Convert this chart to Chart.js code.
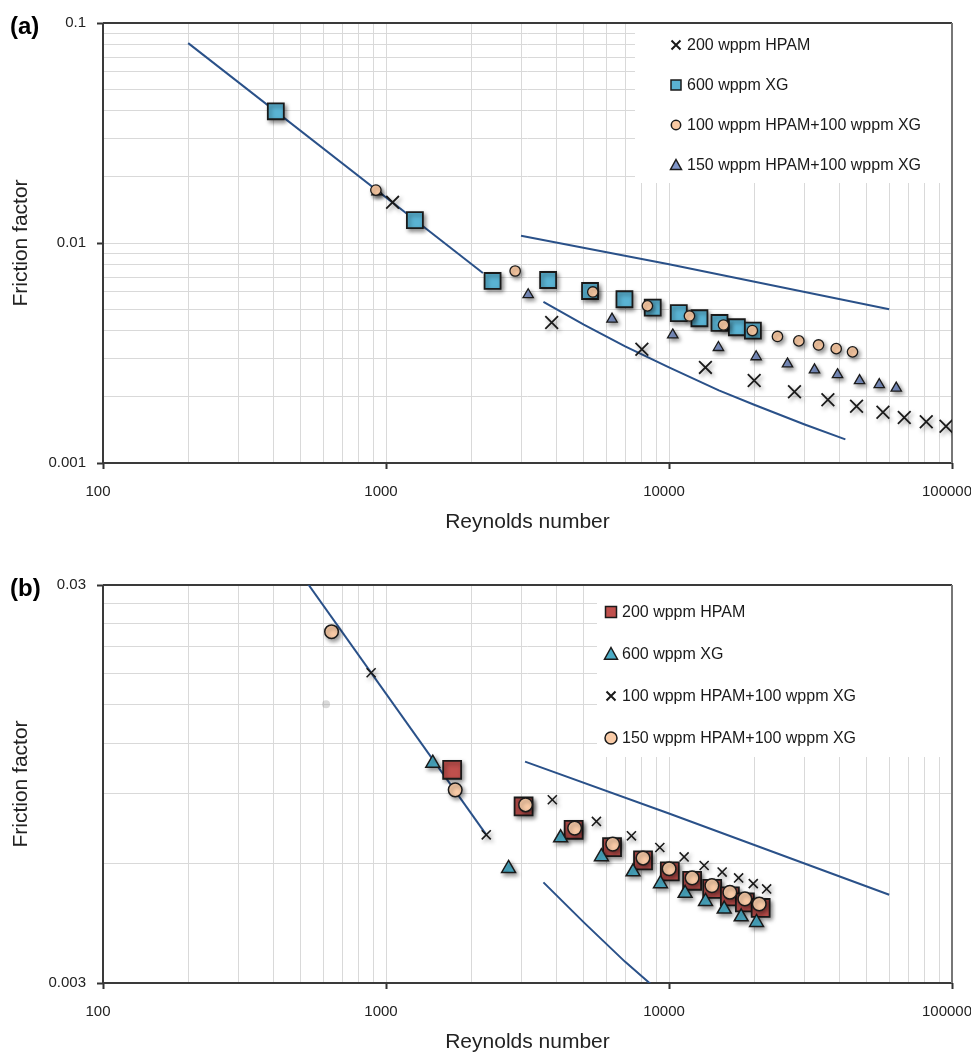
<!DOCTYPE html>
<html><head><meta charset="utf-8">
<script src="https://cdn.jsdelivr.net/npm/chart.js@4/dist/chart.umd.min.js"></script>
<style>
html,body{margin:0;padding:0;background:#fff;}
#wrap{position:relative;width:971px;height:1055px;overflow:hidden;background:#fff;}
canvas{position:absolute;left:0;}
#ca{top:0;} #cb{top:535px;}
.panel{position:absolute;left:10px;font:bold 24px "Liberation Sans",Arial,Helvetica,sans-serif;line-height:28px;color:#000;}
</style></head>
<body><div id="wrap">
<canvas id="ca" width="971" height="535"></canvas>
<canvas id="cb" width="971" height="520"></canvas>
<div class="panel" style="top:12px">(a)</div>
<div class="panel" style="top:574px">(b)</div>
</div>
<script>
// ---------- Tick labels ----------
const xTickLabels = ['100', '1000', '10000', '100000'];
const yTickLabelsA = ['0.001', '0.01', '0.1'];
const yTickLabelsB = ['0.003', '0.03'];

// ---------- Panel (a) data ----------
const aLegend = ['200 wppm HPAM', '600 wppm XG', '100 wppm HPAM+100 wppm XG', '150 wppm HPAM+100 wppm XG'];
const aHpamRe = [1055, 3850, 8020, 13450, 20000, 27760, 36430, 45990, 57020, 67820, 81100, 95240];
const aHpamF  = [0.0153, 0.00435, 0.00329, 0.00272, 0.00237, 0.00211, 0.00194, 0.00181, 0.0017, 0.00161, 0.00154, 0.00147];
const aXgRe = [408, 1265, 2380, 3740, 5260, 6960, 8760, 10830, 12810, 15080, 17370, 19790];
const aXgF  = [0.0397, 0.0127, 0.00672, 0.00679, 0.00605, 0.00555, 0.00508, 0.0048, 0.00455, 0.00433, 0.00414, 0.0040];
const aMix100Re = [921, 2860, 5380, 8390, 11810, 15580, 19700, 24170, 28760, 33760, 38980, 44510];
const aMix100F  = [0.0174, 0.00746, 0.00599, 0.00518, 0.00466, 0.00424, 0.0040, 0.00376, 0.00359, 0.00344, 0.00331, 0.0032];
const aMix150Re = [930, 3180, 6290, 10310, 14950, 20320, 26220, 32670, 39400, 47140, 55330, 63530];
const aMix150F  = [0.0171, 0.00582, 0.00451, 0.00382, 0.00335, 0.00304, 0.00282, 0.00265, 0.00252, 0.00237, 0.00227, 0.00219];
const aLamRe = [200, 2200];
const aLamF  = [0.081, 0.0073];
const aUpRe = [3000, 10000, 60000];
const aUpF  = [0.0108, 0.0080, 0.0050];
const aLowRe = [3600, 5000, 7000, 10000, 15000, 20000, 30000, 42000];
const aLowF  = [0.0054, 0.00426, 0.00339, 0.00272, 0.00214, 0.00184, 0.0015, 0.00128];

// ---------- Panel (b) data ----------
const bLegend = ['200 wppm HPAM', '600 wppm XG', '100 wppm HPAM+100 wppm XG', '150 wppm HPAM+100 wppm XG'];
const bHpamRe = [1713, 3063, 4603, 6291, 8095, 10065, 12070, 14210, 16410, 18540, 21080];
const bHpamF  = [0.0103, 0.00833, 0.00728, 0.00658, 0.0061, 0.00572, 0.00542, 0.00517, 0.00495, 0.00478, 0.00463];
const bXgRe = [1463, 2711, 4141, 5769, 7464, 9331, 11400, 13460, 15670, 17990, 20390];
const bXgF  = [0.0107, 0.00582, 0.00695, 0.00623, 0.00571, 0.00533, 0.00504, 0.00481, 0.0046, 0.0044, 0.00426];
const bMix100Re = [886, 2261, 3870, 5540, 7367, 9280, 11310, 13310, 15410, 17620, 19850, 22130];
const bMix100F  = [0.01806, 0.00707, 0.00866, 0.00764, 0.00703, 0.00657, 0.00622, 0.00592, 0.0057, 0.00551, 0.00533, 0.00517];
const bMix150Re = [642, 1756, 3113, 4640, 6326, 8095, 10010, 12070, 14180, 16410, 18540, 20840];
const bMix150F  = [0.0229, 0.00917, 0.00841, 0.00735, 0.0067, 0.00618, 0.00581, 0.00551, 0.00527, 0.00507, 0.00488, 0.00474];
const bGhostRe = [614];
const bGhostF  = [0.01505];
const bLamRe = [500, 2260];
const bLamF  = [0.032, 0.00708];
const bUpRe = [3100, 10000, 60000];
const bUpF  = [0.0108, 0.0080, 0.0050];
const bLowRe = [3600, 5000, 7000, 10000, 15000];
const bLowF  = [0.00537, 0.00426, 0.00339, 0.00272, 0.00214];

// ---------- helpers ----------
const FONT = '"Liberation Sans", Arial, Helvetica, sans-serif';
const LINE = '#2A5189';
const INK = '#1a1a1a';
function pts(xs, ys) { return xs.map((x, i) => ({ x: x, y: ys[i] })); }
function gridValues(decadeStarts, last) {
  const out = [];
  decadeStarts.forEach(d => { for (let k = 1; k <= 9; k++) out.push(+(k * d).toPrecision(8)); });
  out.push(last);
  return out;
}
function isLabel(v, labels) { return labels.some(l => Math.abs(v - Number(l)) / Number(l) < 1e-6); }
function labelOf(v, labels) { const l = labels.find(l => Math.abs(v - Number(l)) / Number(l) < 1e-6); return l === undefined ? '' : l; }

function drawMarker(ctx, style, x, y, r, fill, stroke, lw) {
  ctx.save();
  ctx.beginPath();
  ctx.lineWidth = lw; ctx.strokeStyle = stroke; ctx.fillStyle = fill;
  if (style === 'rect') { ctx.rect(x - r, y - r, 2 * r, 2 * r); ctx.fill(); ctx.stroke(); }
  else if (style === 'circle') { ctx.arc(x, y, r, 0, Math.PI * 2); ctx.fill(); ctx.stroke(); }
  else if (style === 'triangle') { ctx.moveTo(x, y - r); ctx.lineTo(x + r, y + r * 0.8); ctx.lineTo(x - r, y + r * 0.8); ctx.closePath(); ctx.fill(); ctx.stroke(); }
  else if (style === 'crossRot') { ctx.moveTo(x - r, y - r); ctx.lineTo(x + r, y + r); ctx.moveTo(x + r, y - r); ctx.lineTo(x - r, y + r); ctx.stroke(); }
  ctx.restore();
}

function makeFrame(cfg) {
  return {
    id: 'frame',
    beforeDatasetsDraw(chart) {
      const ctx = chart.ctx, a = chart.chartArea;
      ctx.save();
      ctx.fillStyle = '#fff';
      ctx.fillRect(cfg.boxLeft, a.top, a.right - cfg.boxLeft, cfg.boxBottom - a.top);
      ctx.lineWidth = 2;
      ctx.strokeStyle = '#3a3a3a';
      ctx.beginPath(); ctx.moveTo(a.left, a.top); ctx.lineTo(a.right, a.top); ctx.stroke();
      ctx.beginPath(); ctx.moveTo(a.left, a.top); ctx.lineTo(a.left, a.bottom); ctx.lineTo(a.right, a.bottom); ctx.stroke();
      ctx.strokeStyle = '#777';
      ctx.beginPath(); ctx.moveTo(a.right, a.top); ctx.lineTo(a.right, a.bottom); ctx.stroke();
      ctx.font = '16px ' + FONT;
      ctx.fillStyle = '#1a1a1a';
      ctx.textBaseline = 'middle';
      ctx.textAlign = 'left';
      cfg.items.forEach((it, i) => {
        const y = cfg.rows[i];
        drawMarker(ctx, it.style, cfg.markerX, y, it.r, it.fill, it.stroke, it.lw);
        ctx.fillStyle = '#1a1a1a';
        ctx.fillText(it.label, cfg.textX, y + 1);
      });
      ctx.restore();
    },
    beforeDatasetDraw(chart, args) {
      const ds = chart.data.datasets[args.index];
      if (ds.shadow) {
        const c = chart.ctx; c.save();
        c.shadowColor = 'rgba(0,0,0,0.42)'; c.shadowBlur = 4; c.shadowOffsetX = 2; c.shadowOffsetY = 2.5;
      }
    },
    afterDatasetDraw(chart, args) {
      const ds = chart.data.datasets[args.index];
      if (ds.shadow) chart.ctx.restore();
    }
  };
}

function marker(label, xs, ys, style, r, fill, lw) {
  return { label: label, data: pts(xs, ys), pointStyle: style, pointRadius: r, pointHoverRadius: r,
    backgroundColor: fill, borderColor: INK, pointBorderWidth: lw, borderWidth: lw, showLine: false, shadow: true };
}
function curve(xs, ys) {
  return { data: pts(xs, ys), showLine: true, pointRadius: 0, borderColor: LINE, borderWidth: 2, tension: 0, clip: 0, shadow: false };
}

function scales(yMin, yMax, yGrid, yLabels, xAxisHeight) {
  const xGrid = gridValues([100, 1000, 10000], 100000);
  return {
    x: {
      type: 'logarithmic', min: 100, max: 100000, position: 'bottom',
      afterBuildTicks: s => { s.ticks = xGrid.map(v => ({ value: v, major: isLabel(v, xTickLabels) })); },
      afterFit: s => { s.height = xAxisHeight; s.paddingLeft = 0; s.paddingRight = 0; },
      grid: { color: '#D9D9D9', lineWidth: 1, drawTicks: true, tickLength: 6, tickWidth: 2,
        tickColor: c => (c.tick && c.tick.major) ? '#333' : 'rgba(0,0,0,0)' },
      border: { display: false },
      ticks: { autoSkip: false, maxRotation: 0, minRotation: 0, padding: 14, labelOffset: -5, color: '#222',
        font: { family: FONT, size: 15 }, callback: v => labelOf(v, xTickLabels) },
      title: { display: true, text: 'Reynolds number', color: '#222', font: { family: FONT, size: 21 }, padding: { top: 0, bottom: 0 } }
    },
    y: {
      type: 'logarithmic', min: yMin, max: yMax, position: 'left',
      afterBuildTicks: s => { s.ticks = yGrid.map(v => ({ value: v, major: isLabel(v, yLabels) })); },
      afterFit: s => { s.width = 103; s.paddingTop = 0; s.paddingBottom = 0; },
      grid: { color: '#D9D9D9', lineWidth: 1, drawTicks: true, tickLength: 6, tickWidth: 2,
        tickColor: c => (c.tick && c.tick.major) ? '#333' : 'rgba(0,0,0,0)' },
      border: { display: false },
      ticks: { autoSkip: false, padding: 11, color: '#222', font: { family: FONT, size: 15 },
        callback: v => labelOf(v, yLabels) },
      title: { display: true, text: 'Friction factor', color: '#222', font: { family: FONT, size: 21 }, padding: { top: 9, bottom: 0 } }
    }
  };
}

const common = {
  responsive: false, animation: false, events: [],
  plugins: { legend: { display: false }, tooltip: { enabled: false } }
};

// ---------- Chart (a) ----------
const yGridA = gridValues([0.001, 0.01], 0.1);
new Chart(document.getElementById('ca'), {
  type: 'scatter',
  data: { datasets: [
    marker(aLegend[2], aMix100Re, aMix100F, 'circle', 5.2, '#F9C9A3', 1.3),
    marker(aLegend[1], aXgRe, aXgF, 'rect', 11.3, '#5AB3D3', 1.8),
    marker(aLegend[3], aMix150Re, aMix150F, 'triangle', 6, '#7F95C8', 1.3),
    marker(aLegend[0], aHpamRe, aHpamF, 'crossRot', 9, INK, 1.8),
    curve(aLamRe, aLamF), curve(aUpRe, aUpF), curve(aLowRe, aLowF)
  ] },
  options: Object.assign({}, common, {
    layout: { padding: { left: 0, top: 23, right: 19, bottom: 0 } },
    scales: scales(0.001, 0.1, yGridA, yTickLabelsA, 72)
  }),
  plugins: [makeFrame({
    boxLeft: 635, boxBottom: 183, markerX: 676, textX: 687, rows: [45, 85, 125, 165],
    items: [
      { label: aLegend[0], style: 'crossRot', r: 4.5, fill: INK, stroke: INK, lw: 2 },
      { label: aLegend[1], style: 'rect', r: 5, fill: '#5AB3D3', stroke: INK, lw: 1.5 },
      { label: aLegend[2], style: 'circle', r: 4.7, fill: '#F9C9A3', stroke: INK, lw: 1.5 },
      { label: aLegend[3], style: 'triangle', r: 5.5, fill: '#7F95C8', stroke: INK, lw: 1.5 }
    ]
  })]
});

// ---------- Chart (b) ----------
const yGridB = [1, 2, 3, 4, 5, 6, 7, 8, 9, 10].map(k => +(k * Number(yTickLabelsB[0])).toPrecision(8));
const ghost = { data: pts(bGhostRe, bGhostF), pointStyle: 'circle', pointRadius: 4, backgroundColor: 'rgba(150,150,150,0.35)', borderWidth: 0, pointBorderWidth: 0, showLine: false, shadow: false };
new Chart(document.getElementById('cb'), {
  type: 'scatter',
  data: { datasets: [
    marker(bLegend[3], bMix150Re, bMix150F, 'circle', 6.8, '#F9CBA7', 1.5),
    marker(bLegend[1], bXgRe, bXgF, 'triangle', 8, '#4BACC6', 1.5),
    marker(bLegend[0], bHpamRe, bHpamF, 'rect', 12.7, '#C0504D', 1.8),
    marker(bLegend[2], bMix100Re, bMix100F, 'crossRot', 6.4, INK, 1.6),
    ghost,
    curve(bLamRe, bLamF), curve(bUpRe, bUpF), curve(bLowRe, bLowF)
  ] },
  options: Object.assign({}, common, {
    layout: { padding: { left: 0, top: 50, right: 19, bottom: 0 } },
    scales: scales(0.003, 0.03, yGridB, yTickLabelsB, 72)
  }),
  plugins: [makeFrame({
    boxLeft: 597, boxBottom: 222, markerX: 611, textX: 622, rows: [77, 119, 161, 203],
    items: [
      { label: bLegend[0], style: 'rect', r: 5.5, fill: '#C0504D', stroke: INK, lw: 1.5 },
      { label: bLegend[1], style: 'triangle', r: 6.5, fill: '#4BACC6', stroke: INK, lw: 1.5 },
      { label: bLegend[2], style: 'crossRot', r: 4.5, fill: INK, stroke: INK, lw: 2 },
      { label: bLegend[3], style: 'circle', r: 6, fill: '#F9CBA7', stroke: INK, lw: 1.5 }
    ]
  })]
});
</script>
</body></html>
